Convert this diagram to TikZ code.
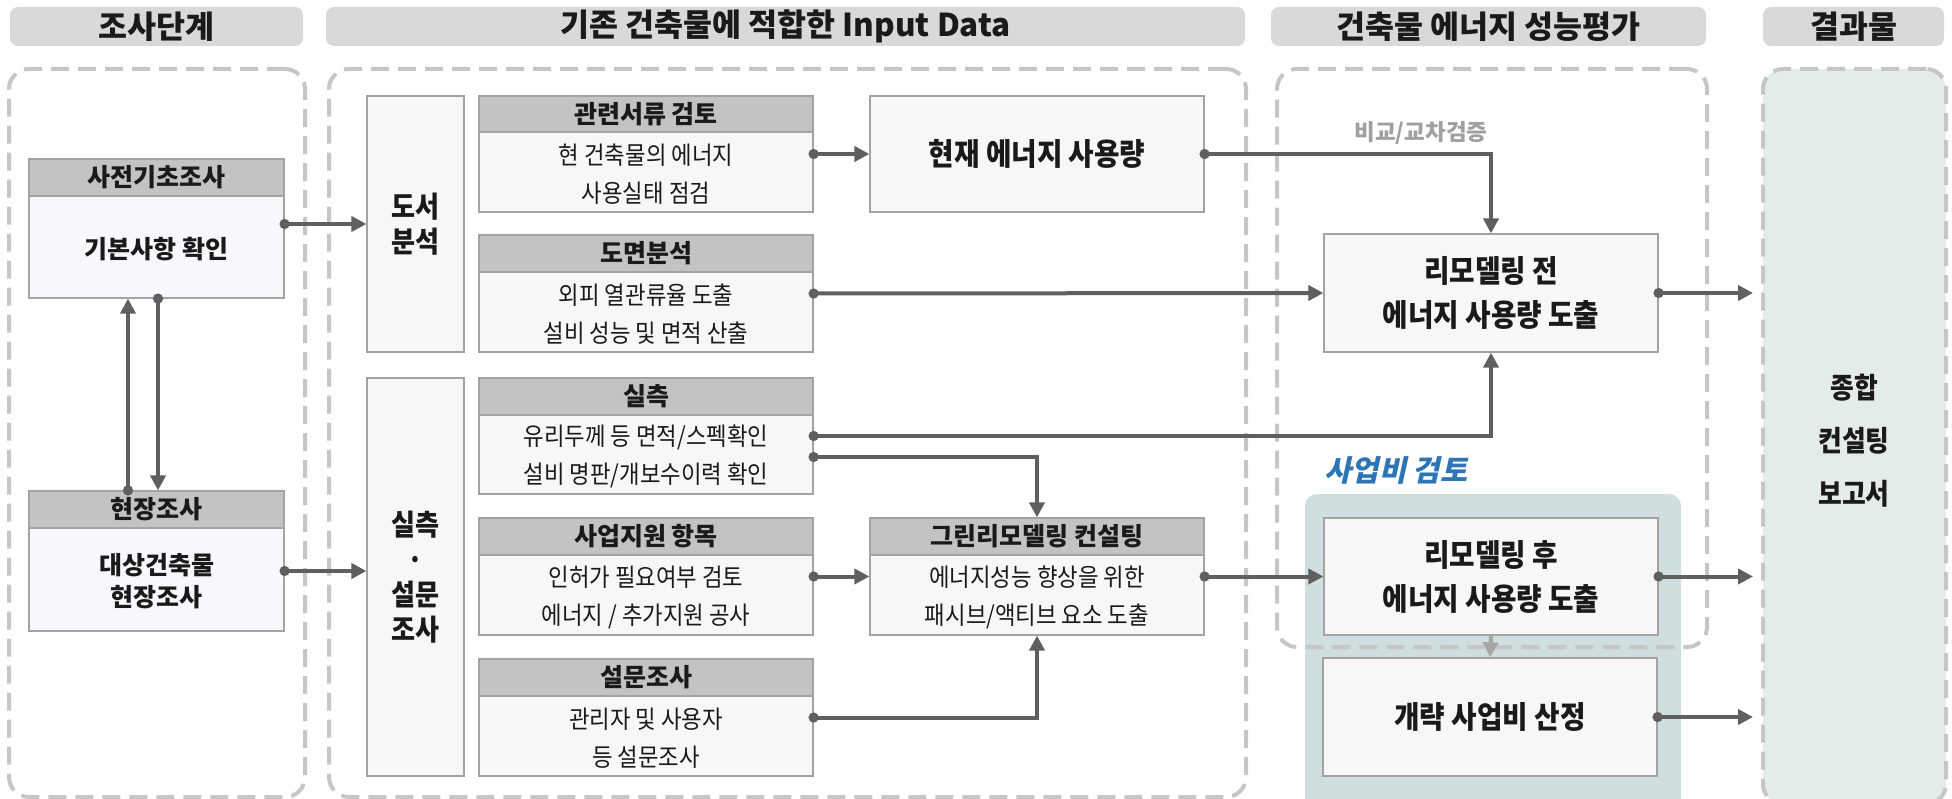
\documentclass[tikz,border=0pt]{standalone}
\usepackage{fontspec}
\setmainfont{Noto Sans CJK KR}
\newfontfamily\mycond{Noto Sans CJK KR}[FakeStretch=0.9]
\newfontfamily\myslant{Noto Sans CJK KR}[FakeSlant=0.22]
\usetikzlibrary{arrows.meta,calc}
\definecolor{hdr}{HTML}{D9D9D9}
\definecolor{dsh}{HTML}{C6C6C6}
\definecolor{stripc}{HTML}{C3C3C3}
\definecolor{boxf}{HTML}{F7F7F7}
\definecolor{boxb}{HTML}{A3A3A3}
\definecolor{bluef}{HTML}{F7F8FC}
\definecolor{ln}{HTML}{5F5F5F}
\definecolor{resf}{HTML}{E4ECEB}
\definecolor{panf}{HTML}{CFDEDE}
\definecolor{lgarr}{HTML}{A6A6A6}
\definecolor{bluet}{HTML}{2E75B6}
\definecolor{grt}{HTML}{A0A0A0}
\definecolor{txt}{HTML}{1A1A1A}
\newcommand\myhfont{\fontsize{31.5}{34}\selectfont\bfseries}
\newcommand\mytfont{\fontsize{25}{28}\selectfont\bfseries}
\newcommand\mybody{\mycond\fontsize{24.8}{38}\selectfont}
\newcommand\mybig{\mycond\fontsize{30.8}{44}\selectfont\bfseries}
\newcommand\mymid{\fontsize{25}{32}\selectfont\bfseries}
\newcommand\mytall{\mycond\fontsize{29}{35}\selectfont\bfseries}
% #1 body style, #2 name, #3 x1, #4 y1, #5 x2, #6 y2, #7 strip bottom, #8 title, #9 body
\newcommand\mytbox[9][plainbody]{%
  \node[box, #1, minimum width={#5-#3}, minimum height={#6-#4}] (#2) at ({(#3+#5)/2},{(#4+#6)/2}) {};
  \node[stripbox, minimum width={#5-#3}, minimum height={#7-#4}] (#2-t) at ({(#3+#5)/2},{(#4+#7)/2}) {\mytfont #8};
  \node[bodytext, #1] (#2-b) at ({(#3+#5)/2},{(#7+#6)/2+2}) {#9};
}
\begin{document}
\begin{tikzpicture}[x=1pt,y=-1pt,
  hdrbar/.style={fill=hdr, rounded corners=8pt, draw=none, inner sep=0pt, text=txt, font=\myhfont},
  group/.style={draw=dsh, line width=4pt, dash pattern=on 18pt off 9pt, rounded corners=20pt, inner sep=0pt},
  box/.style={draw=boxb, line width=1.2pt, fill=boxf, inner sep=0pt, text=txt, align=center},
  stripbox/.style={draw=boxb, line width=1.2pt, fill=stripc, inner sep=0pt, text=txt},
  bodytext/.style={align=center, text=txt, font=\mybody, inner sep=0pt, draw=none, fill=none},
  plainbody/.style={},
  leftbody/.style={fill=bluef, font=\mymid},
  conn/.style={draw=ln, line width=4pt, {Circle[length=10pt]}-{Triangle[length=15pt,width=15pt]}, shorten <=-5pt},
  lconn/.style={draw=lgarr, line width=4pt, -{Triangle[length=15pt,width=15pt]}},
  lbl/.style={font=\fontsize{22.5}{25}\selectfont\bfseries, text=grt, inner sep=0pt}
]
\useasboundingbox (0,0) rectangle (1952,799);
% headers
\node[hdrbar, minimum width=293, minimum height=39] (h1) at (156.5,26.5) {조사단계};
\node[hdrbar, minimum width=919, minimum height=39] (h2) at (785.5,26.5) {기존 건축물에 적합한 Input Data};
\node[hdrbar, minimum width=435, minimum height=39] (h3) at (1488.5,26.5) {건축물 에너지 성능평가};
\node[hdrbar, minimum width=181, minimum height=39] (h4) at (1853.5,26.5) {결과물};
% groups
\node[group, fill=resf, minimum width=183, minimum height=735] (res) at (1854.5,436.5) {};
\node[group, minimum width=296, minimum height=728] (g1) at (157,433) {};
\node[group, minimum width=917, minimum height=728] (g2) at (787.5,433) {};
\node[fill=panf, rounded corners=12pt, minimum width=376, minimum height=318, inner sep=0pt] (pan) at (1493,653) {};
\node[group, minimum width=430, minimum height=578] (g3) at (1492,358) {};
\node[font=\myslant\bfseries\fontsize{29.5}{32}\selectfont, text=bluet, inner sep=0pt] (pantitle) at (1396,470) {사업비 검토};
% left column
\mytbox[leftbody]{pre}{29}{159}{284}{298}{196}{사전기초조사}{기본사항 확인}
\mytbox[leftbody]{site}{29}{491}{284}{631}{528}{현장조사}{대상건축물\\현장조사}
% middle
\node[box, minimum width=97, minimum height=256, font=\mytall] (doseo) at (415.5,224) {도서\\분석};
\node[box, minimum width=97, minimum height=398, font=\mytall] (silch) at (415.5,577) {실측\\·\\설문\\조사};
\mytbox{rel}{479}{96}{813}{212}{132}{관련서류 검토}{현 건축물의 에너지\\사용실태 점검}
\mytbox{dm}{479}{235}{813}{352}{272}{도면분석}{외피 열관류율 도출\\설비 성능 및 면적 산출}
\mytbox{sc}{479}{378}{813}{494}{415}{실측}{유리두께 등 면적/스펙확인\\설비 명판/개보수이력 확인}
\mytbox{sj}{479}{518}{813}{635}{555}{사업지원 항목}{인허가 필요여부 검토\\에너지 / 추가지원 공사}
\mytbox{sm}{479}{659}{813}{776}{696}{설문조사}{관리자 및 사용자\\등 설문조사}
\mytbox{green}{870}{518}{1204}{635}{555}{그린리모델링 컨설팅}{에너지성능 향상을 위한\\패시브/액티브 요소 도출}
\node[box, minimum width=334, minimum height=116, font=\mybig] (now) at (1037,154) {현재 에너지 사용량};
% right
\node[box, minimum width=334, minimum height=118, font=\mybig] (before) at (1491,293) {리모델링 전\\에너지 사용량 도출};
\node[box, minimum width=334, minimum height=117, font=\mybig] (after) at (1491,576.5) {리모델링 후\\에너지 사용량 도출};
\node[box, minimum width=334, minimum height=118, font=\mybig] (cost) at (1490,717) {개략 사업비 산정};
\node[font=\mycond\fontsize{28.7}{53}\selectfont\bfseries, text=txt, align=center, inner sep=0pt] (restext) at (1854,441) {종합\\컨설팅\\보고서};
% connectors
\draw[conn] (pre.east |- doseo.west) -- (doseo.west);
\draw[conn] (site.east |- 0,571) -- (silch.west |- 0,571);
\draw[conn] (site.north -| 128,0) -- (pre.south -| 128,0);
\draw[conn] (pre.south -| 158,0) -- (site.north -| 158,0);
\draw[conn] (rel.east) -- (now.west);
\draw[conn] (now.east) -| (before.north);
\node[lbl] (cmp) at (1421,133) {비교/교차검증};
\draw[conn] (dm.east) -- (before.west);
\draw[conn] (sc.east |- 0,436) -| (before.south);
\draw[conn] (sc.east |- 0,457) -| (green.north);
\draw[conn] (sj.east) -- (green.west);
\draw[conn] (sm.east) -| (green.south);
\draw[conn] (green.east) -- (after.west);
\draw[conn, shorten >=8pt] (before.east) -- (before.east -| res.west);
\draw[conn, shorten >=8pt] (after.east) -- (after.east -| res.west);
\draw[conn, shorten >=8pt] (cost.east) -- (cost.east -| res.west);
\draw[lconn] (after.south) -- (cost.north);
\end{tikzpicture}
\end{document}
